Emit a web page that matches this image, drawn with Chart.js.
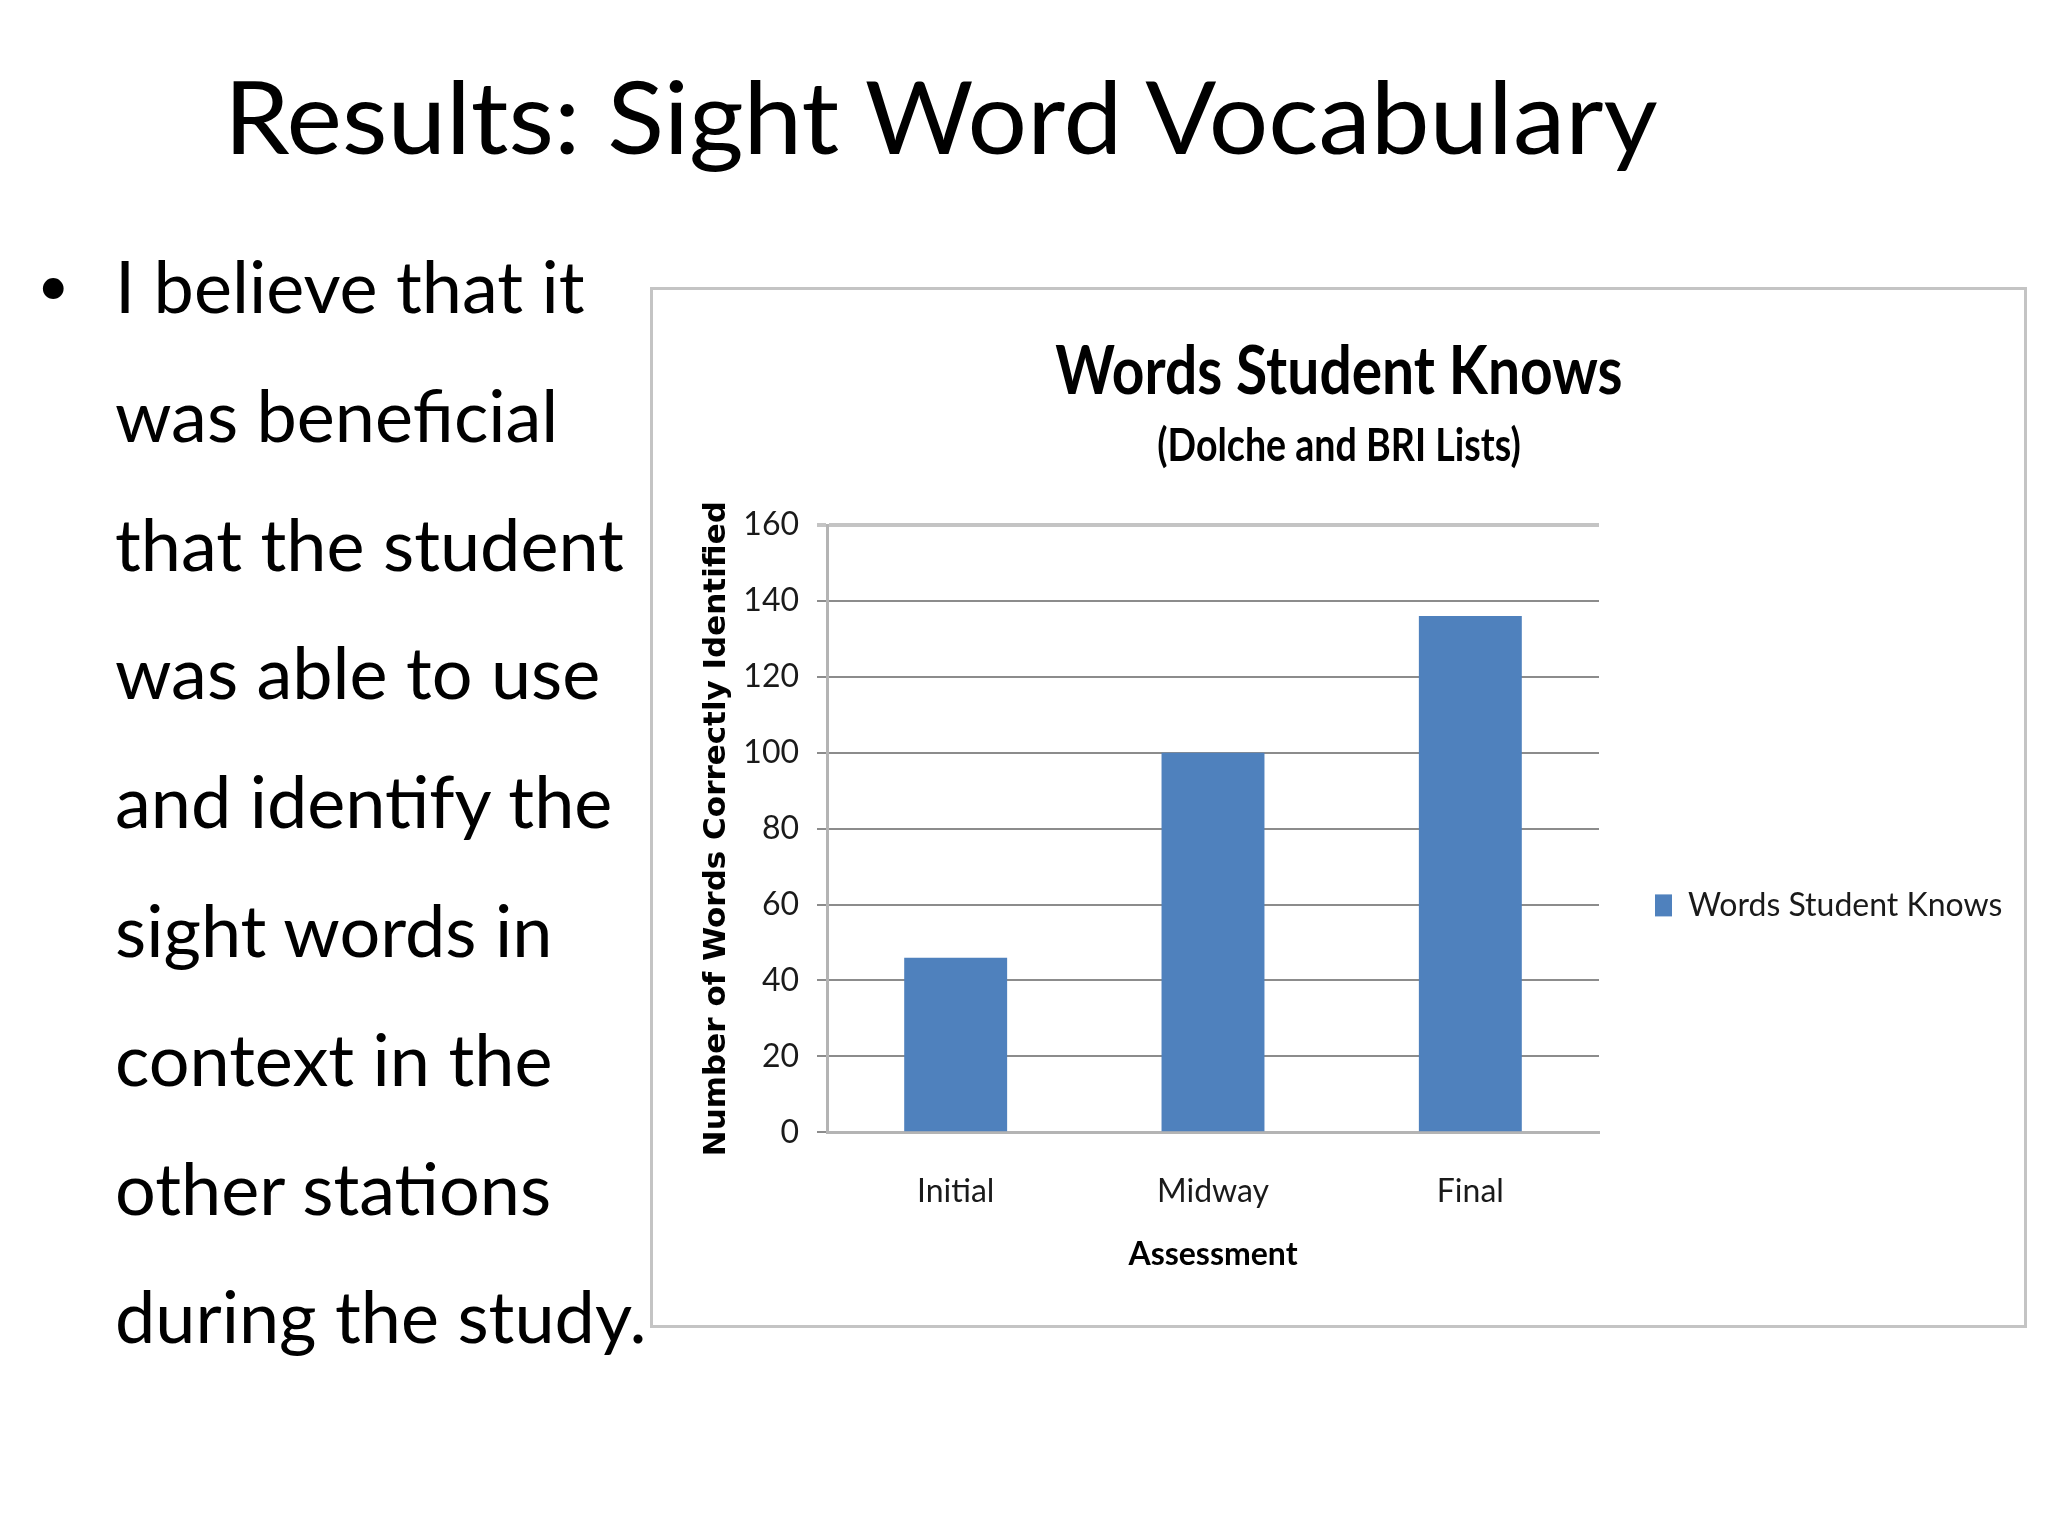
<!DOCTYPE html>
<html>
<head>
<meta charset="utf-8">
<script src="https://cdn.jsdelivr.net/npm/chart.js"></script>
<style>
  html, body { margin: 0; padding: 0; background: #fff; }
  body { width: 2048px; height: 1536px; position: relative; overflow: hidden; font-family: Lato, "Open Sans", sans-serif; color: #000; }
  h1 { position: absolute; left: 224px; top: 65px; margin: 0; font-weight: 400; font-size: 100px; line-height: 1; white-space: nowrap; transform: scaleX(1.051); transform-origin: left top; }
  .bullet { position: absolute; left: 37px; top: 220px; font-size: 56px; line-height: 128.8px; }
  .text { position: absolute; left: 115px; top: 221px; font-size: 72px; line-height: 128.8px; white-space: nowrap; }
  .frame { position: absolute; left: 650px; top: 287px; width: 1371px; height: 1035px; border: 3px solid #c4c4c4; }
  #chart { position: absolute; left: 350px; top: 290px; }
  .ctitle { position: absolute; left: 839px; width: 1000px; text-align: center; font-weight: 700; line-height: 1; white-space: nowrap; transform-origin: center top; }
  .ctitle.main { top: 335px; font-size: 67px; transform: scaleX(0.85); }
  .ctitle.sub { top: 422px; font-size: 45px; transform: scaleX(0.835); }
</style>
</head>
<body>
  <h1>Results: Sight Word Vocabulary</h1>
  <div class="bullet">•</div>
  <div class="text">I believe that it<br>was beneficial<br>that the student<br>was able to use<br>and identify the<br>sight words in<br>context in the<br>other stations<br>during the study.</div>
  <div class="frame"></div>
  <canvas id="chart" width="1698" height="1035"></canvas>
  <div class="ctitle main">Words Student Knows</div>
  <div class="ctitle sub">(Dolche and BRI Lists)</div>

  <script>
    // data
    const categories = ["Initial", "Midway", "Final"];
    const wordsKnown = [46, 100, 136];
    const yMin = 0;
    const yMax = 160;
    const yStep = 20;

    const blue = "#4F81BD";
    const font = (size, weight) => ({ family: "Lato", size: size, weight: weight || "normal" });

    const ctx = document.getElementById("chart").getContext("2d");
    new Chart(ctx, {
      type: "bar",
      data: {
        labels: categories,
        datasets: [
          {
            label: "Words Student Knows",
            data: wordsKnown,
            backgroundColor: blue,
            borderWidth: 0,
            barPercentage: 0.4,
            categoryPercentage: 1.0
          }
        ]
      },
      options: {
        responsive: false,
        animation: false,
        devicePixelRatio: 1,
        // side legend gets a quarter of the width, so the canvas is wider than the frame
        layout: { padding: { left: 19, right: 39, top: 235, bottom: 51 } },
        plugins: {
          title: { display: false },
          legend: {
            position: "right",
            align: "start",
            // empty title only pushes the single entry down to where it sits on the slide
            title: { display: true, text: "", font: { size: 12 }, padding: { top: 294, bottom: 0 } },
            labels: { boxWidth: 17, boxHeight: 22, padding: 56, color: "#1a1a1a", font: font(32) }
          },
          tooltip: { enabled: false }
        },
        scales: {
          x: {
            grid: { display: false, drawTicks: false },
            border: { display: true, color: "#b4b4b4", width: 3 },
            ticks: { color: "#1a1a1a", padding: 40, font: font(32) },
            title: { display: true, text: "Assessment", color: "#000", font: font(32, "bold"), padding: { top: -15, bottom: 0 } }
          },
          y: {
            min: yMin,
            max: yMax,
            // fixed width so the plot starts where the slide has it
            afterFit: (scale) => { scale.width = 458; },
            ticks: { stepSize: yStep, padding: 18, color: "#1a1a1a", font: font(32) },
            grid: {
              color: (c) => (c.tick && c.tick.value === yMax ? "#c4c4c4" : "#8c8c8c"),
              lineWidth: (c) => (c.tick && c.tick.value === yMax ? 4 : 2),
              tickLength: 10
            },
            border: { color: "#b4b4b4", width: 3 },
            title: {
              display: true,
              text: "Number of Words Correctly Identified",
              color: "#000",
              font: { family: "DejaVu Sans", size: 31, weight: "bold" },
              padding: { top: 329, bottom: 2 }
            }
          }
        }
      }
    });
  </script>
</body>
</html>
